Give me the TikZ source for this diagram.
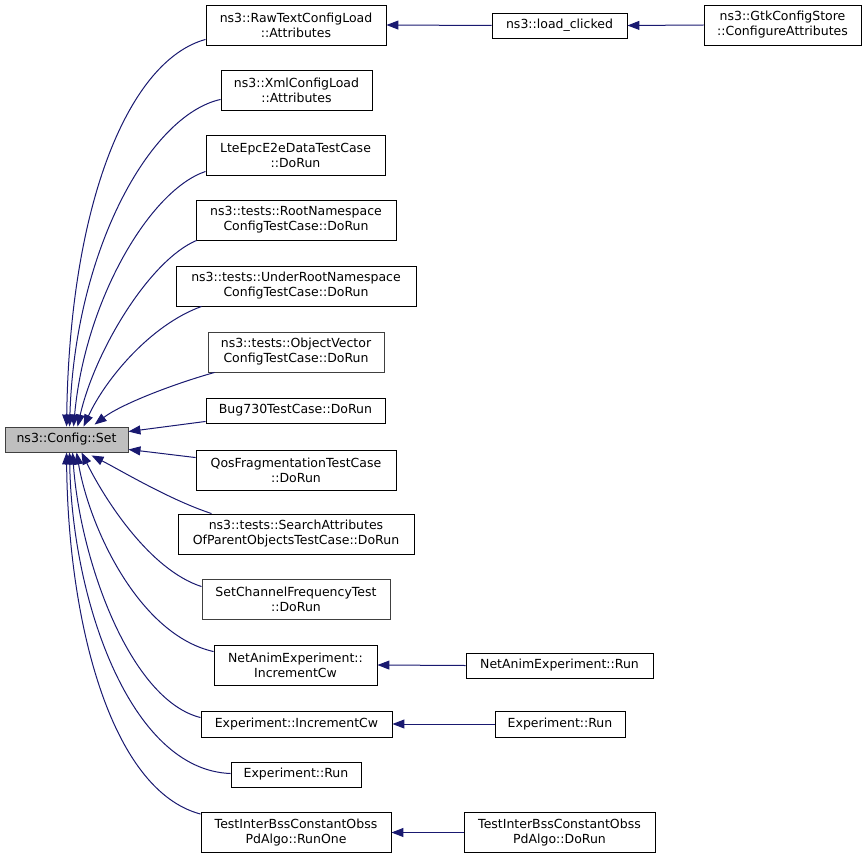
\documentclass[tikz,border=0pt]{standalone}
\usepackage{fontspec}
\setmainfont{DejaVu Sans}
\usetikzlibrary{arrows.meta,calc}
\definecolor{edgeblue}{HTML}{191970}
\definecolor{setgray}{HTML}{BFBFBF}
\definecolor{dgray}{HTML}{404040}
\begin{document}
\begin{tikzpicture}[x=1pt,y=-1pt,
  box/.style={draw=black,line width=0.9pt,rectangle,inner sep=0pt,align=center,
    font=\fontsize{12.5}{15}\selectfont,fill=white},
  gbox/.style={box,draw=dgray},
  call/.style={draw=edgeblue,line width=1pt,-{Triangle[length=12pt,width=9pt]},color=edgeblue}]
\useasboundingbox (0,0) rectangle (867,859);
% nodes
\node[box,fill=setgray,draw=dgray,minimum width=123,minimum height=25] (set) at (66.5,439.5) {ns3::Config::Set};
\node[box,minimum width=180,minimum height=40] (raw) at (296,25) {ns3::RawTextConfigLoad\\::Attributes};
\node[box,minimum width=151,minimum height=40] (xml) at (296.5,90) {ns3::XmlConfigLoad\\::Attributes};
\node[box,minimum width=179,minimum height=40] (lte) at (295.5,155) {LteEpcE2eDataTestCase\\::DoRun};
\node[box,minimum width=200,minimum height=40] (root) at (296,220) {ns3::tests::RootNamespace\\ConfigTestCase::DoRun};
\node[box,minimum width=240,minimum height=40] (under) at (296,286) {ns3::tests::UnderRootNamespace\\ConfigTestCase::DoRun};
\node[gbox,minimum width=176,minimum height=40] (objvec) at (296,352) {ns3::tests::ObjectVector\\ConfigTestCase::DoRun};
\node[box,minimum width=179,minimum height=25] (bug) at (295.5,410.5) {Bug730TestCase::DoRun};
\node[box,minimum width=200,minimum height=40] (qos) at (296,470) {QosFragmentationTestCase\\::DoRun};
\node[box,minimum width=236,minimum height=40] (search) at (296,534) {ns3::tests::SearchAttributes\\OfParentObjectsTestCase::DoRun};
\node[gbox,minimum width=188,minimum height=40] (setch) at (296,599) {SetChannelFrequencyTest\\::DoRun};
\node[box,minimum width=163,minimum height=40] (netinc) at (295.5,665) {NetAnimExperiment::\\IncrementCw};
\node[box,minimum width=191,minimum height=26] (expinc) at (296.5,724) {Experiment::IncrementCw};
\node[box,minimum width=130,minimum height=25] (exprun) at (296,774.5) {Experiment::Run};
\node[box,minimum width=190,minimum height=40] (tibro) at (296,832.5) {TestInterBssConstantObss\\PdAlgo::RunOne};
\node[box,minimum width=135,minimum height=25] (load) at (559.5,25.5) {ns3::load\_clicked};
\node[box,minimum width=157,minimum height=40] (gtk) at (782.5,25) {ns3::GtkConfigStore\\::ConfigureAttributes};
\node[box,minimum width=187,minimum height=25] (netrun) at (559.5,665.5) {NetAnimExperiment::Run};
\node[box,minimum width=130,minimum height=26] (exprun2) at (560,724) {Experiment::Run};
\node[box,minimum width=191,minimum height=40] (tibdo) at (559.5,832.5) {TestInterBssConstantObss\\PdAlgo::DoRun};
% horizontal edges
\draw[call] (load.west) -- (raw.east);
\draw[call] (gtk.west) -- (load.east);
\draw[call] (netrun.west) -- (netinc.east);
\draw[call] (exprun2.west) -- (expinc.east);
\draw[call] (tibdo.west) -- (tibro.east);
% curved edges into set (top)
\draw[call] ($(raw.south west)+(0,-6)$) .. controls (130,60) and (70,200) .. ($(set.north west)+(62,0)$);
\draw[call] ($(xml.south west)+(0,-11)$) .. controls (150,115) and (75,250) .. ($(set.north west)+(65,0)$);
\draw[call] ($(lte.south west)+(0,-4)$) .. controls (150,190) and (85,300) .. ($(set.north west)+(69,0)$);
\draw[call] ($(root.south west)+(1,0)$) .. controls (150,260) and (95,350) .. ($(set.north west)+(73,0)$);
\draw[call] ($(under.south west)+(26,0)$) .. controls (150,325) and (105,380) .. ($(set.north west)+(79,0)$);
\draw[call] ($(objvec.south west)+(7,0)$) .. controls (170,385) and (120,405) .. ($(set.north west)+(90,-2)$);
\draw[call] ($(bug.south west)+(0,-2)$) -- ($(set.north east)+(0,5)$);
\draw[call] ($(qos.north west)+(0,8)$) -- ($(set.south east)+(0,-3)$);
% curved edges into set (bottom)
\draw[call] ($(search.north west)+(34,0)$) .. controls (170,500) and (120,470) .. ($(set.south west)+(87,3)$);
\draw[call] ($(setch.north west)+(0,8)$) .. controls (150,570) and (105,500) .. ($(set.south west)+(77,0)$);
\draw[call] ($(netinc.north west)+(0,7)$) .. controls (140,635) and (90,530) .. ($(set.south west)+(72,0)$);
\draw[call] ($(expinc.north west)+(0,7)$) .. controls (130,700) and (80,560) .. ($(set.south west)+(68,0)$);
\draw[call] ($(exprun.west)+(0,-1)$) .. controls (130,770) and (72,600) .. ($(set.south west)+(65,0)$);
\draw[call] ($(tibro.north west)+(0,2)$) .. controls (110,790) and (68,620) .. ($(set.south west)+(62,0)$);
\end{tikzpicture}
\end{document}
